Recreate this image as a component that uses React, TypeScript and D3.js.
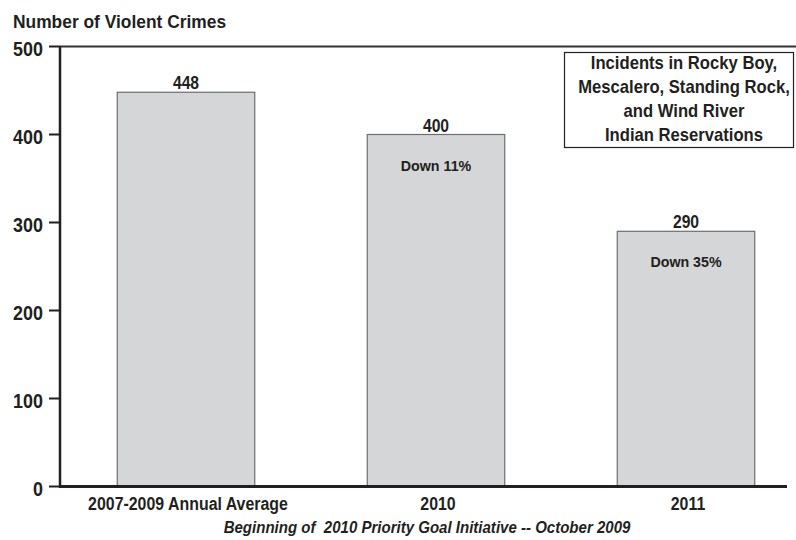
import React from "react";
import * as d3 from "d3";

// Chart data
const categories = ["2007-2009 Annual Average", "2010", "2011"];
const crimeCounts = [448, 400, 290];
const changeNotes = ["", "Down 11%", "Down 35%"];
const yTicks = [0, 100, 200, 300, 400, 500];
const legendLines = [
	"Incidents in Rocky Boy,",
	"Mescalero, Standing Rock,",
	"and Wind River",
	"Indian Reservations",
];
const yTitle = "Number of Violent Crimes";
const footnote = "Beginning of  2010 Priority Goal Initiative -- October 2009";

const W = 796;
const H = 540;
const FONT = "'Liberation Sans', Arial, Helvetica, sans-serif";
const INK = "#231f20";

// Bold text squeezed horizontally to mimic a condensed face
const Label: React.FC<{
	x: number;
	y: number;
	size: number;
	sx?: number;
	anchor?: "start" | "middle" | "end";
	italic?: boolean;
	children: React.ReactNode;
}> = ({ x, y, size, sx = 0.92, anchor = "start", italic = false, children }) => (
	<text
		transform={`translate(${x},${y}) scale(${sx},1)`}
		textAnchor={anchor}
		fontFamily={FONT}
		fontWeight="bold"
		fontStyle={italic ? "italic" : "normal"}
		fontSize={size}
		fill={INK}
		style={{ whiteSpace: "pre" }}
	>
		{children}
	</text>
);

const App: React.FC = () => {
	const plotLeft = 60;
	const plotRight = 787;
	const y = d3.scaleLinear().domain([0, 500]).range([486.5, 46.5]);
	const x = d3
		.scaleBand<string>()
		.domain(categories)
		.range([61, 811])
		.paddingInner(0.45)
		.paddingOuter(0.225);
	const mid = (c: string) => (x(c) as number) + x.bandwidth() / 2;

	return (
		<div style={{ position: "fixed", left: 0, top: 0 }}>
			<svg width={W} height={H} style={{ display: "block", background: "#fff" }}>
				{/* Axis title */}
				<Label x={13} y={28.3} size={18.5} sx={0.94}>
					{yTitle}
				</Label>

				{/* Top frame line */}
				<line x1={plotLeft} x2={W} y1={y(500)} y2={y(500)} stroke="#333" strokeWidth={2} />

				{/* Bars */}
				{categories.map((c, i) => (
					<g key={c}>
						<rect
							x={x(c)}
							y={y(crimeCounts[i])}
							width={x.bandwidth()}
							height={y(0) - y(crimeCounts[i])}
							fill="#d5d6d8"
							stroke="#6d6e70"
							strokeWidth={1.2}
						/>
						<Label x={mid(c)} y={y(crimeCounts[i]) - 3} size={18.5} sx={0.85} anchor="middle">
							{crimeCounts[i]}
						</Label>
						{changeNotes[i] && (
							<Label x={mid(c)} y={y(crimeCounts[i]) + 36} size={15.5} sx={0.92} anchor="middle">
								{changeNotes[i]}
							</Label>
						)}
						<Label x={mid(c) + 2} y={509.5} size={18.5} sx={0.86} anchor="middle">
							{c}
						</Label>
					</g>
				))}

				{/* Y axis */}
				<line x1={plotLeft} x2={plotLeft} y1={y(500)} y2={y(0) + 1.5} stroke={INK} strokeWidth={2.5} />
				{yTicks.map((t) => (
					<g key={t}>
						<line x1={49} x2={plotLeft} y1={y(t)} y2={y(t)} stroke={INK} strokeWidth={2} />
						<Label x={43} y={y(t) + 9.5} size={19.5} sx={0.92} anchor="end">
							{t}
						</Label>
					</g>
				))}

				{/* Baseline */}
				<line x1={plotLeft} x2={plotRight} y1={y(0)} y2={y(0)} stroke={INK} strokeWidth={3} />

				{/* Legend box */}
				<rect x={564.5} y={52.5} width={229} height={95} fill="#fff" stroke={INK} strokeWidth={1.2} />
				{legendLines.map((l, i) => (
					<Label key={l} x={684} y={69.3 + i * 23.8} size={18.5} sx={0.9} anchor="middle">
						{l}
					</Label>
				))}

				{/* Footnote */}
				<Label x={427} y={532.7} size={16} sx={0.94} anchor="middle" italic>
					{footnote}
				</Label>
			</svg>
		</div>
	);
};

export default App;
